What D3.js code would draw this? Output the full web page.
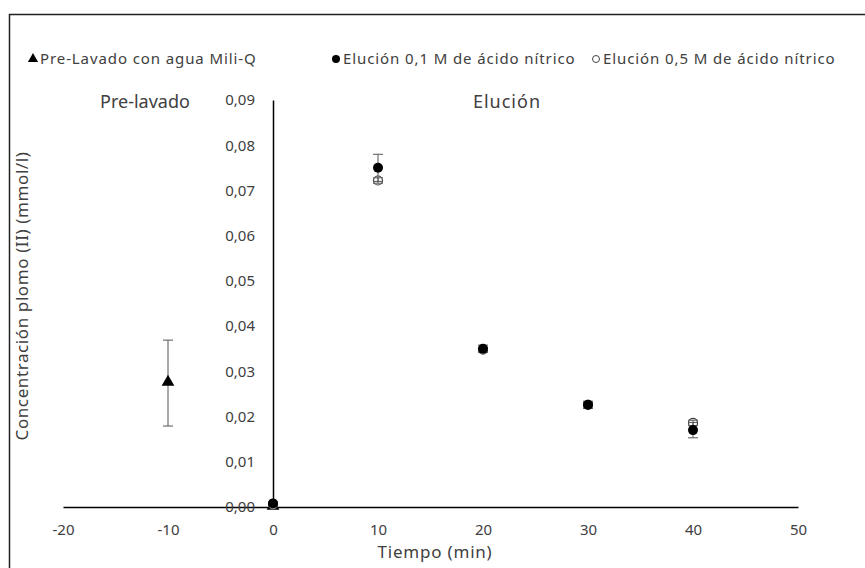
<!DOCTYPE html>
<html>
<head>
<meta charset="utf-8">
<script src="https://cdn.jsdelivr.net/npm/d3@7"></script>
<style>
    body { margin: 0; background: #fff; }
    text { font-family: "Noto Sans", "Open Sans", sans-serif; fill: #404040; }
</style>
</head>
<body>
<svg id="chart" width="865" height="568"></svg>
<script>
// --- data ---
const xTicks = [-20, -10, 0, 10, 20, 30, 40, 50];
const yTicks = [0, 0.01, 0.02, 0.03, 0.04, 0.05, 0.06, 0.07, 0.08, 0.09];

const preX = [-10, 0];
const preY = [0.0274, 0];
const preErr = [0.0095, 0];

const eluX = [0, 10, 20, 30, 40];
const elu01Y = [0.0008, 0.075, 0.035, 0.0226, 0.017];
const elu01Err = [0.0003, 0.003, 0.0008, 0.0008, 0.0017];
const elu05Y = [0.0005, 0.0722, 0.0348, 0.0226, 0.0186];
const elu05Err = [0.0003, 0.0006, 0.0005, 0.0005, 0.0006];

const legendNames = ["Pre-Lavado con agua Mili-Q", "Elución 0,1 M de ácido nítrico", "Elución 0,5 M de ácido nítrico"];

const svg = d3.select("#chart");

// outer frame
svg.append("rect")
    .attr("x", 9.5).attr("y", 14.5)
    .attr("width", 870).attr("height", 570)
    .attr("fill", "none").attr("stroke", "#222").attr("stroke-width", 1.5);

const x = d3.scaleLinear().domain([-20, 50]).range([63, 798]);
const y = d3.scaleLinear().domain([0, 0.09]).range([507, 100]);

const loc = d3.formatLocale({decimal: ",", thousands: ".", grouping: [3], currency: ["", "€"]});
const fmt = loc.format(".2f");

// axes
let xAxis = svg.append("g")
    .attr("transform", `translate(0,${y(0)})`)
    .call(d3.axisBottom(x).tickValues(xTicks).tickSize(0).tickPadding(17).tickFormat(d3.format("d")));
let yAxis = svg.append("g")
    .attr("transform", `translate(${x(0)},0)`)
    .call(d3.axisLeft(y).tickValues(yTicks).tickSize(0).tickPadding(18).tickFormat(fmt));

[xAxis, yAxis].forEach(a => {
    a.select(".domain").attr("stroke", "#000").attr("stroke-width", 1.5);
    a.selectAll("text").style("font-size", "15px").attr("fill", "#404040");
});
xAxis.selectAll("text").text(d => d < 0 ? "-" + Math.abs(d) : d);

// axis titles
svg.append("text")
    .attr("x", 435).attr("y", 558)
    .attr("text-anchor", "middle")
    .style("font-size", "17px").style("letter-spacing", "0.8px")
    .text("Tiempo (min)");
svg.append("text")
    .attr("transform", "translate(28,296) rotate(-90)")
    .attr("text-anchor", "middle")
    .style("font-size", "17px").style("letter-spacing", "0.6px")
    .text("Concentración plomo (II) (mmol/l)");

// region labels
svg.append("text").attr("x", 145).attr("y", 108).attr("text-anchor", "middle")
    .style("font-size", "18px").text("Pre-lavado");
svg.append("text").attr("x", 507).attr("y", 108).attr("text-anchor", "middle")
    .style("font-size", "18px").style("letter-spacing", "1px").text("Elución");

// error bars
function errorBars(xs, ys, es) {
    let g = svg.append("g").attr("stroke", "#555").attr("stroke-width", 1);
    xs.forEach((d, i) => {
        if (!es[i]) return;
        let cx = x(d), top = y(ys[i] + es[i]), bot = y(ys[i] - es[i]);
        g.append("line").attr("x1", cx).attr("x2", cx).attr("y1", top).attr("y2", bot);
        g.append("line").attr("x1", cx - 5).attr("x2", cx + 5).attr("y1", top).attr("y2", top);
        g.append("line").attr("x1", cx - 5).attr("x2", cx + 5).attr("y1", bot).attr("y2", bot);
    });
}

const tri = d3.symbol().type(d3.symbolTriangle).size(70);

// series 1: pre-lavado
errorBars(preX, preY, preErr);
svg.append("g").selectAll("path")
    .data(preX)
    .join("path")
    .attr("transform", (d, i) => `translate(${x(d)},${y(preY[i]) - 1})`)
    .attr("d", tri)
    .attr("fill", "#000");

// series 3 first: elucion 0,5 M (open markers, bars drawn on top)
svg.append("g").selectAll("circle")
    .data(eluX)
    .join("circle")
    .attr("cx", d => x(d))
    .attr("cy", (d, i) => y(elu05Y[i]))
    .attr("r", 4.5)
    .attr("fill", "#fff")
    .attr("stroke", "#444")
    .attr("stroke-width", 1.2);
errorBars(eluX, elu05Y, elu05Err);

// series 2: elucion 0,1 M on top
errorBars(eluX, elu01Y, elu01Err);
svg.append("g").selectAll("circle")
    .data(eluX)
    .join("circle")
    .attr("cx", d => x(d))
    .attr("cy", (d, i) => y(elu01Y[i]))
    .attr("r", 5)
    .attr("fill", "#000");

// legend
const legendX = [33, 336, 596];
const leg = svg.append("g");
legendNames.forEach((name, i) => {
    let g = leg.append("g").attr("transform", `translate(${legendX[i]},59)`);
    if (i === 0) {
        g.append("path").attr("d", d3.symbol().type(d3.symbolTriangle).size(45)).attr("fill", "#000");
    } else if (i === 1) {
        g.append("circle").attr("r", 4).attr("fill", "#000");
    } else {
        g.append("circle").attr("r", 3.5).attr("fill", "#fff").attr("stroke", "#444").attr("stroke-width", 1);
    }
    g.append("text").attr("x", 7).attr("y", 5)
        .style("font-size", "15px").style("letter-spacing", "0.9px")
        .text(name);
});
</script>
</body>
</html>
